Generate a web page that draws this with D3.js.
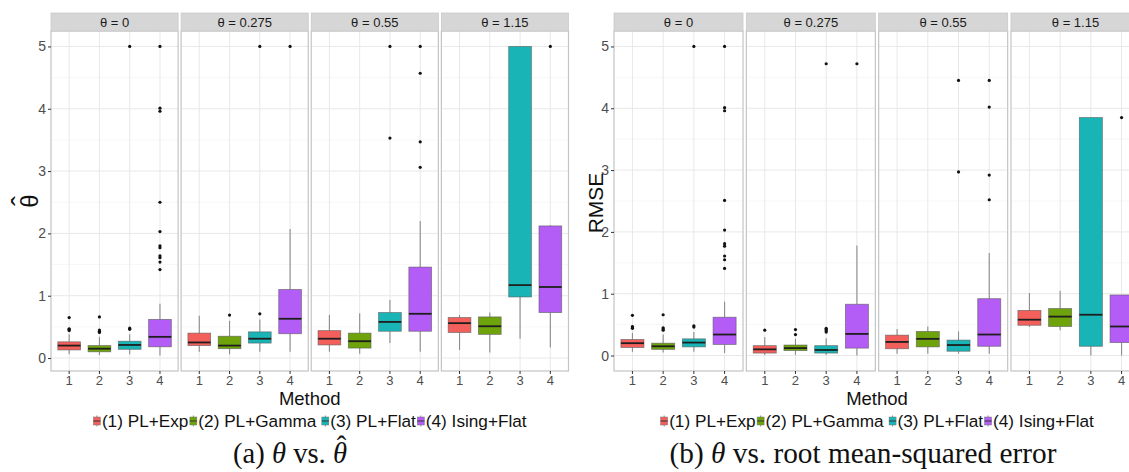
<!DOCTYPE html>
<html>
<head>
<meta charset="utf-8">
<script src="https://cdn.jsdelivr.net/npm/d3@7"></script>
<style>
  body { margin: 0; background: #ffffff; }
  svg { display: block; font-family: "Liberation Sans", Arial, sans-serif; }
</style>
</head>
<body>
<svg id="chart" width="1129" height="472"></svg>
<script>
// ---- data ---------------------------------------------------------------
const methods = ["1", "2", "3", "4"];
const facets = ["θ = 0", "θ = 0.275", "θ = 0.55", "θ = 1.15"];
const methodLabels = ["(1) PL+Exp", "(2) PL+Gamma", "(3) PL+Flat", "(4) Ising+Flat"];
const methodColors = ["#F35F5B", "#6FA30B", "#19B4B6", "#B35DF6"];
const yTicks = [0, 1, 2, 3, 4, 5];
const yMinor = [0.5, 1.5, 2.5, 3.5, 4.5];

// estimated θ̂ — [facet, method, lower whisker, Q1, median, Q3, upper whisker]
const thetaHatBoxes = [
  [0, "1", 0.06, 0.13, 0.20, 0.26, 0.38],
  [0, "2", 0.05, 0.10, 0.15, 0.20, 0.34],
  [0, "3", 0.06, 0.14, 0.21, 0.27, 0.38],
  [0, "4", 0.04, 0.18, 0.34, 0.62, 0.87],
  [1, "1", 0.10, 0.20, 0.25, 0.40, 0.68],
  [1, "2", 0.06, 0.15, 0.20, 0.35, 0.60],
  [1, "3", 0.10, 0.24, 0.31, 0.42, 0.62],
  [1, "4", 0.10, 0.39, 0.63, 1.10, 2.07],
  [2, "1", 0.10, 0.21, 0.31, 0.44, 0.69],
  [2, "2", 0.07, 0.16, 0.27, 0.40, 0.72],
  [2, "3", 0.24, 0.43, 0.58, 0.73, 0.93],
  [2, "4", 0.10, 0.43, 0.71, 1.46, 2.20],
  [3, "1", 0.13, 0.41, 0.56, 0.65, 0.69],
  [3, "2", 0.09, 0.38, 0.51, 0.66, 0.73],
  [3, "3", 0.31, 0.98, 1.17, 5.00, 5.00],
  [3, "4", 0.17, 0.73, 1.14, 2.12, 2.13]
];
// θ̂ outliers — [facet, method, value]
const thetaHatOutliers = [
  [0, "1", 0.44], [0, "1", 0.46], [0, "1", 0.47], [0, "1", 0.65],
  [0, "2", 0.41], [0, "2", 0.43], [0, "2", 0.45], [0, "2", 0.66],
  [0, "3", 0.46], [0, "3", 0.48], [0, "3", 5.00],
  [0, "4", 1.42], [0, "4", 1.54], [0, "4", 1.61], [0, "4", 1.64], [0, "4", 1.77],
  [0, "4", 1.80], [0, "4", 2.03], [0, "4", 2.50], [0, "4", 3.96], [0, "4", 4.01], [0, "4", 5.00],
  [1, "2", 0.69], [1, "3", 0.71], [1, "3", 5.00], [1, "4", 5.00],
  [2, "3", 3.53], [2, "3", 5.00],
  [2, "4", 3.06], [2, "4", 3.47], [2, "4", 4.57], [2, "4", 5.00],
  [3, "4", 5.00]
];

// RMSE — [facet, method, lower whisker, Q1, median, Q3, upper whisker]
const rmseBoxes = [
  [0, "1", 0.06, 0.13, 0.20, 0.26, 0.37],
  [0, "2", 0.05, 0.10, 0.15, 0.20, 0.34],
  [0, "3", 0.06, 0.14, 0.21, 0.27, 0.38],
  [0, "4", 0.04, 0.18, 0.34, 0.62, 0.87],
  [1, "1", 0.01, 0.04, 0.10, 0.16, 0.30],
  [1, "2", 0.01, 0.08, 0.12, 0.17, 0.27],
  [1, "3", 0.01, 0.04, 0.09, 0.16, 0.28],
  [1, "4", 0.00, 0.12, 0.35, 0.83, 1.78],
  [2, "1", 0.03, 0.11, 0.22, 0.33, 0.43],
  [2, "2", 0.03, 0.14, 0.27, 0.39, 0.47],
  [2, "3", 0.03, 0.07, 0.17, 0.25, 0.39],
  [2, "4", 0.03, 0.15, 0.34, 0.92, 1.66],
  [3, "1", 0.46, 0.49, 0.58, 0.73, 1.01],
  [3, "2", 0.41, 0.47, 0.63, 0.76, 1.05],
  [3, "3", 0.00, 0.15, 0.66, 3.85, 3.85],
  [3, "4", 0.00, 0.21, 0.47, 0.98, 0.98]
];
// RMSE outliers — [facet, method, value]
const rmseOutliers = [
  [0, "1", 0.44], [0, "1", 0.46], [0, "1", 0.47], [0, "1", 0.65],
  [0, "2", 0.41], [0, "2", 0.43], [0, "2", 0.45], [0, "2", 0.66],
  [0, "3", 0.46], [0, "3", 0.48], [0, "3", 5.00],
  [0, "4", 1.41], [0, "4", 1.55], [0, "4", 1.61], [0, "4", 1.77], [0, "4", 1.81],
  [0, "4", 2.03], [0, "4", 2.51], [0, "4", 3.96], [0, "4", 4.01], [0, "4", 5.00],
  [1, "1", 0.41], [1, "2", 0.34], [1, "2", 0.42],
  [1, "3", 0.38], [1, "3", 0.40], [1, "3", 0.42], [1, "3", 0.44], [1, "3", 4.72],
  [1, "4", 4.72],
  [2, "3", 2.97], [2, "3", 4.45],
  [2, "4", 2.52], [2, "4", 2.92], [2, "4", 4.02], [2, "4", 4.45],
  [3, "4", 3.85]
];

// ---- drawing ------------------------------------------------------------
const svg = d3.select("#chart");
svg.append("rect").attr("width", 1129).attr("height", 472).attr("fill", "#ffffff");

const colorOf = d3.scaleOrdinal().domain(methods).range(methodColors);
const PANEL_TOP = 31, PANEL_BOTTOM = 371, STRIP_TOP = 13;
const CAPTION_Y = 463;
const SANS = "Liberation Sans, Arial, sans-serif";
const SERIF = "Liberation Serif, 'Times New Roman', serif";

function drawFacetGrid(cfg) {
  const root = svg.append("g");
  const facetX = d3.scaleBand().domain(d3.range(facets.length))
    .range(cfg.xRange).paddingInner(cfg.gap);
  const pw = facetX.bandwidth();
  const x = d3.scaleBand().domain(methods).range([0, pw])
    .paddingInner(0.25).paddingOuter(0.225);
  const y = d3.scaleLinear().domain(cfg.yDomain).range([PANEL_BOTTOM, PANEL_TOP]);
  const cx = m => x(m) + x.bandwidth() / 2;

  facets.forEach((label, fi) => {
    const p = root.append("g").attr("transform", `translate(${facetX(fi)},0)`);

    // grid
    p.selectAll("line.minor").data(yMinor).join("line")
      .attr("x1", 0).attr("x2", pw).attr("y1", d => y(d)).attr("y2", d => y(d))
      .attr("stroke", "#F4F4F4").attr("stroke-width", 0.7);
    p.selectAll("line.major").data(yTicks).join("line")
      .attr("x1", 0).attr("x2", pw).attr("y1", d => y(d)).attr("y2", d => y(d))
      .attr("stroke", "#E8E8E8").attr("stroke-width", 1);
    p.selectAll("line.vgrid").data(methods).join("line")
      .attr("x1", cx).attr("x2", cx).attr("y1", PANEL_TOP).attr("y2", PANEL_BOTTOM)
      .attr("stroke", "#E8E8E8").attr("stroke-width", 1);

    const boxes = cfg.boxes.filter(b => b[0] === fi);
    const bw = x.bandwidth();

    // whiskers
    p.selectAll("line.wlo").data(boxes).join("line")
      .attr("x1", d => cx(d[1])).attr("x2", d => cx(d[1]))
      .attr("y1", d => y(d[2])).attr("y2", d => y(d[3]))
      .attr("stroke", "#8C8C8C").attr("stroke-width", 1.1);
    p.selectAll("line.whi").data(boxes).join("line")
      .attr("x1", d => cx(d[1])).attr("x2", d => cx(d[1]))
      .attr("y1", d => y(d[5])).attr("y2", d => y(d[6]))
      .attr("stroke", "#8C8C8C").attr("stroke-width", 1.1);

    // boxes
    p.selectAll("rect.box").data(boxes).join("rect")
      .attr("x", d => x(d[1])).attr("width", bw)
      .attr("y", d => y(d[5])).attr("height", d => y(d[3]) - y(d[5]))
      .attr("fill", d => colorOf(d[1]))
      .attr("stroke", "#5A5A5A").attr("stroke-opacity", 0.7).attr("stroke-width", 0.8);

    // medians
    p.selectAll("line.med").data(boxes).join("line")
      .attr("x1", d => x(d[1])).attr("x2", d => x(d[1]) + bw)
      .attr("y1", d => y(d[4])).attr("y2", d => y(d[4]))
      .attr("stroke", "#1E1E1E").attr("stroke-width", 1.8);

    // outliers
    p.selectAll("circle.out").data(cfg.outliers.filter(o => o[0] === fi)).join("circle")
      .attr("cx", d => cx(d[1])).attr("cy", d => y(d[2])).attr("r", 1.6)
      .attr("fill", "#111111");

    // panel border
    p.append("rect").attr("x", 0).attr("y", PANEL_TOP).attr("width", pw)
      .attr("height", PANEL_BOTTOM - PANEL_TOP)
      .attr("fill", "none").attr("stroke", "#C4C4C4").attr("stroke-width", 1.2);

    // strip
    p.append("rect").attr("x", 0).attr("y", STRIP_TOP).attr("width", pw)
      .attr("height", PANEL_TOP - STRIP_TOP)
      .attr("fill", "#D6D6D6").attr("stroke", "#CACACA").attr("stroke-width", 0.8);
    p.append("text").attr("x", pw / 2).attr("y", (STRIP_TOP + PANEL_TOP) / 2)
      .attr("dy", "0.36em").attr("text-anchor", "middle")
      .attr("font-size", 13).attr("fill", "#1A1A1A").text(label);

    // x axis
    const xa = p.append("g").attr("transform", `translate(0,${PANEL_BOTTOM})`)
      .call(d3.axisBottom(x).tickSize(3).tickPadding(2));
    xa.select(".domain").remove();
    xa.selectAll(".tick line").attr("stroke", "#333333");
    xa.selectAll(".tick text").attr("font-size", 13).attr("fill", "#4D4D4D")
      .attr("font-family", SANS);
  });

  // y axis on the first facet
  const ya = root.append("g").attr("transform", `translate(${facetX(0)},0)`)
    .call(d3.axisLeft(y).tickValues(yTicks).tickFormat(d3.format("d")).tickSize(3).tickPadding(2));
  ya.select(".domain").remove();
  ya.selectAll(".tick line").attr("stroke", "#333333");
  ya.selectAll(".tick text").attr("font-size", 14).attr("fill", "#4D4D4D")
    .attr("font-family", SANS);

  const mid = (cfg.xRange[0] + cfg.xRange[1]) / 2;

  // x title
  root.append("text").attr("x", mid).attr("y", 405).attr("text-anchor", "middle")
    .attr("font-size", 18.5).attr("fill", "#111").text("Method");

  // y title
  cfg.drawYTitle(root);

  // legend
  const lg = root.append("g");
  let cursor = 0;
  methodLabels.forEach((lab, i) => {
    const it = lg.append("g");
    const key = it.append("g").attr("transform", `translate(4,0)`);
    key.append("line").attr("y1", -5.5).attr("y2", 5.5).attr("stroke", "#8C8C8C").attr("stroke-width", 1);
    key.append("rect").attr("x", -3.5).attr("y", -4).attr("width", 7).attr("height", 8)
      .attr("fill", methodColors[i]).attr("stroke", "#777").attr("stroke-width", 0.5);
    key.append("line").attr("x1", -3.5).attr("x2", 3.5).attr("stroke", "#333").attr("stroke-width", 1);
    const t = it.append("text").attr("x", 9).attr("dy", "0.36em")
      .attr("font-size", 17.2).attr("fill", "#111").text(lab);
    const w = 9 + t.node().getComputedTextLength();
    it.attr("transform", `translate(${cursor},0)`);
    cursor += w + (i === 1 ? 5 : 1);
  });
  const total = cursor - 1;
  lg.attr("transform", `translate(${mid - total / 2},421)`);

  // caption
  cfg.drawCaption(root);
}

// scale a caption's font so that it spans the given width
function fitCaption(text, target, base) {
  const w = text.node().getComputedTextLength();
  const fs = base * target / w;
  text.attr("font-size", fs.toFixed(2));
  return fs;
}

drawFacetGrid({
  xRange: [51, 568.5],
  gap: 0.023,
  yDomain: [-0.208, 5.248],
  boxes: thetaHatBoxes,
  outliers: thetaHatOutliers,
  drawYTitle: g => {
    const t = g.append("text").attr("transform", "translate(38,201) rotate(-90)")
      .attr("text-anchor", "middle").attr("fill", "#111");
    t.append("tspan").attr("x", 0).attr("y", 0).attr("font-size", 24).text("θ");
    t.append("tspan").attr("x", 0).attr("y", -6).attr("font-size", 30).text("ˆ");
  },
  drawCaption: g => {
    const c = g.append("text").attr("x", 290).attr("y", CAPTION_Y).attr("text-anchor", "middle")
      .attr("font-family", SERIF).attr("font-size", 23).attr("fill", "#111");
    c.append("tspan").text("(a) ");
    c.append("tspan").attr("font-style", "italic").text("θ");
    c.append("tspan").text(" vs. ");
    c.append("tspan").attr("font-style", "italic").text("θ");
    const fs = fitCaption(c, 114, 23);
    // hat over the last θ, as its own chunk of the same caption
    const n = c.text().length;
    const box = c.node().getExtentOfChar(n - 1);
    c.append("tspan").attr("x", box.x + box.width / 2 + 1.5).attr("y", CAPTION_Y - 0.24 * fs)
      .text("ˆ");
  }
});

drawFacetGrid({
  xRange: [614, 1140],
  gap: 0.025,
  yDomain: [-0.25, 5.25],
  boxes: rmseBoxes,
  outliers: rmseOutliers,
  drawYTitle: g => {
    g.append("text").attr("transform", "translate(603,203) rotate(-90)")
      .attr("text-anchor", "middle").attr("font-size", 21).attr("fill", "#111").text("RMSE");
  },
  drawCaption: g => {
    const c = g.append("text").attr("x", 863).attr("y", CAPTION_Y).attr("text-anchor", "middle")
      .attr("font-family", SERIF).attr("font-size", 23).attr("fill", "#111");
    c.append("tspan").text("(b) ");
    c.append("tspan").attr("font-style", "italic").text("θ");
    c.append("tspan").text(" vs. root mean-squared error");
    fitCaption(c, 387, 23);
  }
});
</script>
</body>
</html>
